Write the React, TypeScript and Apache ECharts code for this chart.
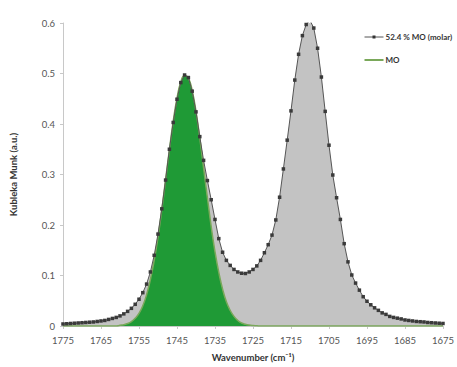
import React, { useEffect, useRef } from "react";
import * as echarts from "echarts";

const wavenumbers: number[] = [
  1775, 1774, 1773, 1772, 1771, 1770, 1769, 1768, 1767, 1766,
  1765, 1764, 1763, 1762, 1761, 1760, 1759, 1758, 1757, 1756,
  1755, 1754, 1753, 1752, 1751, 1750, 1749, 1748, 1747, 1746,
  1745, 1744, 1743, 1742, 1741, 1740, 1739, 1738, 1737, 1736,
  1735, 1734, 1733, 1732, 1731, 1730, 1729, 1728, 1727, 1726,
  1725, 1724, 1723, 1722, 1721, 1720, 1719, 1718, 1717, 1716,
  1715, 1714, 1713, 1712, 1711, 1710, 1709, 1708, 1707, 1706,
  1705, 1704, 1703, 1702, 1701, 1700, 1699, 1698, 1697, 1696,
  1695, 1694, 1693, 1692, 1691, 1690, 1689, 1688, 1687, 1686,
  1685, 1684, 1683, 1682, 1681, 1680, 1679, 1678, 1677, 1676,
  1675,
];

// 52.4 % MO (molar)
const mixtureKM: number[] = [
  0.004, 0.0045, 0.005, 0.0055, 0.006, 0.0065, 0.007, 0.0075, 0.008, 0.009,
  0.010, 0.011, 0.013, 0.015, 0.017, 0.020, 0.024, 0.029, 0.035, 0.043,
  0.053, 0.066, 0.083, 0.107, 0.140, 0.182, 0.232, 0.289, 0.350, 0.403,
  0.449, 0.482, 0.497, 0.492, 0.465, 0.424, 0.375, 0.328, 0.288, 0.250,
  0.211, 0.173, 0.146, 0.130, 0.120, 0.112, 0.107, 0.1045, 0.104, 0.107,
  0.112, 0.119, 0.130, 0.145, 0.161, 0.180, 0.210, 0.255, 0.311, 0.368,
  0.426, 0.487, 0.538, 0.575, 0.597, 0.605, 0.590, 0.550, 0.493, 0.425,
  0.358, 0.299, 0.254, 0.211, 0.163, 0.127, 0.101, 0.085, 0.071, 0.058,
  0.049, 0.042, 0.036, 0.031, 0.026, 0.023, 0.019, 0.017, 0.0155, 0.014,
  0.012, 0.011, 0.010, 0.009, 0.0085, 0.008, 0.007, 0.0065, 0.006, 0.0055,
  0.005,
];

// MO
const moKM: number[] = [
  0, 0, 0, 0, 0, 0, 0, 0, 0, 0,
  0, 0, 0, 0, 0, 0.0013, 0.0026, 0.0049, 0.0088, 0.0153,
  0.025, 0.040, 0.062, 0.092, 0.130, 0.176, 0.230, 0.290, 0.349, 0.405,
  0.451, 0.483, 0.496, 0.491, 0.466, 0.425, 0.372, 0.313, 0.254, 0.197,
  0.147, 0.106, 0.073, 0.048, 0.031, 0.019, 0.011, 0.006, 0.0034, 0.0018,
  0.0009, 0.0004, 0, 0, 0, 0, 0, 0, 0, 0,
  0, 0, 0, 0, 0, 0, 0, 0, 0, 0,
  0, 0, 0, 0, 0, 0, 0, 0, 0, 0,
  0, 0, 0, 0, 0, 0, 0, 0, 0, 0,
  0, 0, 0, 0, 0, 0, 0, 0, 0, 0,
  0,
];

const MIX_NAME = "52.4 % MO (molar)";
const MO_NAME = "MO";

export default function App() {
  const ref = useRef<HTMLDivElement>(null);
  useEffect(() => {
    if (!ref.current) return;
    const chart = echarts.init(ref.current, undefined, { renderer: "svg" });
    const mixData = wavenumbers.map((w, i) => [w, mixtureKM[i]]);
    const moData = wavenumbers.map((w, i) => [w, moKM[i]]);
    const font = "Lato, 'Open Sans', sans-serif";
    const legendText = { fontFamily: font, fontSize: 8, fontWeight: "bold", fill: "#333" };
    chart.setOption({
      animation: false,
      backgroundColor: "#ffffff",
      grid: { left: 62, right: 13, top: 23, bottom: 36 },
      graphic: [
        {
          type: "group",
          left: 362,
          top: 33,
          children: [
            { type: "line", shape: { x1: 0, y1: 4, x2: 19, y2: 4 }, style: { stroke: "#555", lineWidth: 1 } },
            { type: "rect", shape: { x: 8, y: 2.5, width: 3, height: 3 }, style: { fill: "#333" } },
            { type: "text", x: 21, y: 4, style: { ...legendText, text: MIX_NAME, verticalAlign: "middle" } },
            { type: "line", shape: { x1: 0, y1: 27, x2: 19, y2: 27 }, style: { stroke: "#7aa85a", lineWidth: 2 } },
            { type: "text", x: 21, y: 27, style: { ...legendText, text: MO_NAME, verticalAlign: "middle" } },
          ],
        },
      ],
      xAxis: {
        type: "value",
        min: 1675,
        max: 1775,
        interval: 10,
        inverse: true,
        name: "Wavenumber (cm\u207B\u00B9)",
        nameLocation: "middle",
        nameGap: 26,
        nameTextStyle: { fontFamily: font, fontSize: 9.5, fontWeight: "bold", color: "#333" },
        axisLine: { lineStyle: { color: "#c8c8c8" } },
        axisTick: { show: true, length: 3, lineStyle: { color: "#c8c8c8" } },
        axisLabel: { fontFamily: font, fontSize: 9.5, color: "#555", margin: 9, formatter: (v: number) => String(v) },
        splitLine: { show: false },
      },
      yAxis: {
        type: "value",
        min: 0,
        max: 0.6,
        interval: 0.1,
        name: "Kubleka Munk (a.u.)",
        nameLocation: "middle",
        nameGap: 45,
        nameTextStyle: { fontFamily: font, fontSize: 9.5, fontWeight: "bold", color: "#333" },
        axisLine: { show: true, lineStyle: { color: "#c8c8c8" } },
        axisTick: { show: true, length: 3, lineStyle: { color: "#c8c8c8" } },
        axisLabel: { fontFamily: font, fontSize: 9.5, color: "#555", margin: 8 },
        splitLine: { show: false },
      },
      series: [
        {
          name: "mixFill",
          type: "line",
          data: mixData,
          symbol: "none",
          lineStyle: { width: 0, opacity: 0 },
          areaStyle: { color: "#c3c3c3", opacity: 1 },
          z: 1,
          silent: true,
        },
        {
          name: MO_NAME,
          type: "line",
          data: moData,
          symbol: "none",
          smooth: true,
          color: "#7aa85a",
          lineStyle: { width: 1.5, color: "#7aa85a" },
          areaStyle: { color: "#1f9a36", opacity: 1 },
          z: 2,
        },
        {
          name: MIX_NAME,
          type: "line",
          data: mixData,
          symbol: "rect",
          symbolSize: 3.5,
          showSymbol: true,
          color: "#3a3a3a",
          itemStyle: { color: "#3a3a3a" },
          lineStyle: { width: 1, color: "#555" },
          z: 3,
        },
      ],
    });
    return () => chart.dispose();
  }, []);
  return <div ref={ref} style={{ width: 457, height: 367, position: "absolute", left: 0, top: 0 }} />;
}
